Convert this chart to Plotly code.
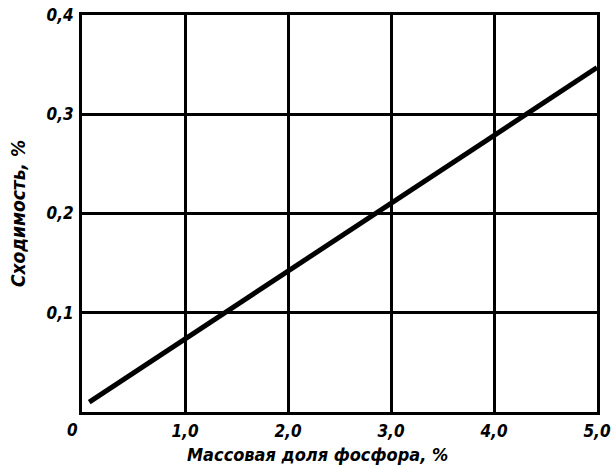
import plotly.graph_objects as go

# Data
mass_fraction_p = [0.07, 5.0]          # Массовая доля фосфора, %
convergence = [0.010, 0.347]           # Сходимость, %

x_tickvals = [1, 2, 3, 4, 5]
x_ticktext = ["1,0", "2,0", "3,0", "4,0", "5,0"]
y_tickvals = [0.1, 0.2, 0.3, 0.4]
y_ticktext = ["0,1", "0,2", "0,3", "0,4"]
x_title = "Массовая доля фосфора, %"
y_title = "Сходимость, %"

FONT = "DejaVu Sans Condensed, Liberation Sans Narrow, DejaVu Sans, sans-serif"

def f(size=15):
    return dict(family=FONT, size=size, color="black", weight="bold", style="italic")

fig = go.Figure()
fig.add_trace(go.Scatter(
    x=mass_fraction_p, y=convergence, mode="lines",
    line=dict(color="black", width=5), showlegend=False, hoverinfo="skip"))

axis_common = dict(
    showline=True, linecolor="black", linewidth=3, mirror=True,
    showgrid=True, gridcolor="black", gridwidth=2.5,
    zeroline=False, ticks="", automargin=False,
    ticklabeloverflow="allow",
    tickfont=f(17),
)

fig.update_layout(
    width=615, height=469,
    margin=dict(l=82, r=18, t=15, b=57),
    paper_bgcolor="white", plot_bgcolor="white",
    xaxis=dict(range=[0, 5], tickvals=x_tickvals, ticktext=x_ticktext,
               ticklabelstandoff=2, **axis_common),
    yaxis=dict(range=[0, 0.4], tickvals=y_tickvals, ticktext=y_ticktext,
               ticklabelstandoff=2,
               title=dict(text=y_title, standoff=16, font=f(19)),
               **axis_common),
)

# x-axis title, placed slightly left of centre as in the original
fig.add_annotation(x=0.458, y=0, xref="paper", yref="paper", text=x_title,
                   showarrow=False, xanchor="center", yanchor="top", yshift=-30,
                   font=f(18))

fig.add_annotation(x=0, y=0, xref="x", yref="paper", text="0", showarrow=False,
                   xanchor="right", yanchor="top", xshift=-2, yshift=-6, font=f(17))

fig.write_html("out.html", config={"displayModeBar": False},
               post_script="document.body.style.margin='0';")
